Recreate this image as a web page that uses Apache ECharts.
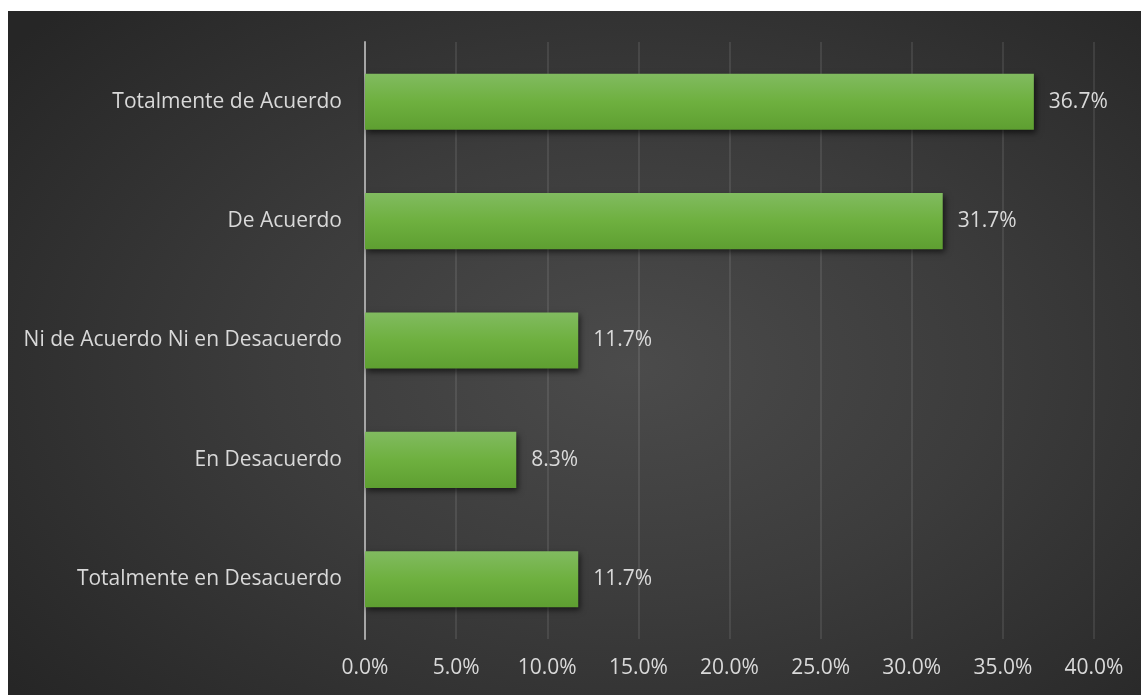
<!DOCTYPE html>
<html>
<head>
<meta charset="utf-8">
<script src="https://cdn.jsdelivr.net/npm/echarts@6/dist/echarts.min.js"></script>
<style>
html,body{margin:0;padding:0;background:#ffffff;}
#bg{position:absolute;left:8px;top:11px;width:1133px;height:684px;
background:radial-gradient(ellipse 70% 75% at 55% 52%, #4b4b4b 0%, #3c3c3c 45%, #262626 100%);}
#chart{position:absolute;left:0;top:0;width:1141px;height:695px;}
</style>
</head>
<body>
<div id="bg"></div>
<div id="chart"></div>
<script>
const categories = ["Totalmente en Desacuerdo","En Desacuerdo","Ni de Acuerdo Ni en Desacuerdo","De Acuerdo","Totalmente de Acuerdo"];
const values = [11.7, 8.3, 11.7, 31.7, 36.7];
const tickLabels = ["0.0%","5.0%","10.0%","15.0%","20.0%","25.0%","30.0%","35.0%","40.0%"];

const chart = echarts.init(document.getElementById('chart'), null, {renderer:'canvas'});
const font = '"Open Sans", Lato, sans-serif';
chart.setOption({
  animation:false,
  grid:{left:365, right:47, top:42, bottom:56, containLabel:false},
  xAxis:{
    type:'value', min:0, max:40, interval:5,
    axisLine:{show:false}, axisTick:{show:false},
    splitLine:{show:true, lineStyle:{color:'rgba(255,255,255,0.12)', width:1.5}},
    axisLabel:{color:'#d9d9d9', fontSize:21, fontFamily:font, margin:19,
      formatter:function(v){return tickLabels[Math.round(v/5)];}}
  },
  yAxis:{
    type:'category', data:categories,
    axisLine:{show:true, lineStyle:{color:'#a6a6a6', width:2}},
    axisTick:{show:false},
    axisLabel:{color:'#d9d9d9', fontSize:21, fontFamily:font, margin:23}
  },
  series:[{
    type:'bar', data:values, barWidth:'47%',
    itemStyle:{
      color:new echarts.graphic.LinearGradient(0,0,0,1,[
        {offset:0,color:'#81bb60'},{offset:0.5,color:'#6eb03f'},{offset:1,color:'#5e9f31'}]),
      shadowColor:'rgba(0,0,0,0.6)', shadowBlur:6, shadowOffsetX:2, shadowOffsetY:3
    },
    label:{show:true, position:'right', distance:15, color:'#d9d9d9', fontSize:21, fontFamily:font,
      formatter:function(p){return p.value.toFixed(1)+'%';}}
  }]
});
</script>
</body>
</html>
